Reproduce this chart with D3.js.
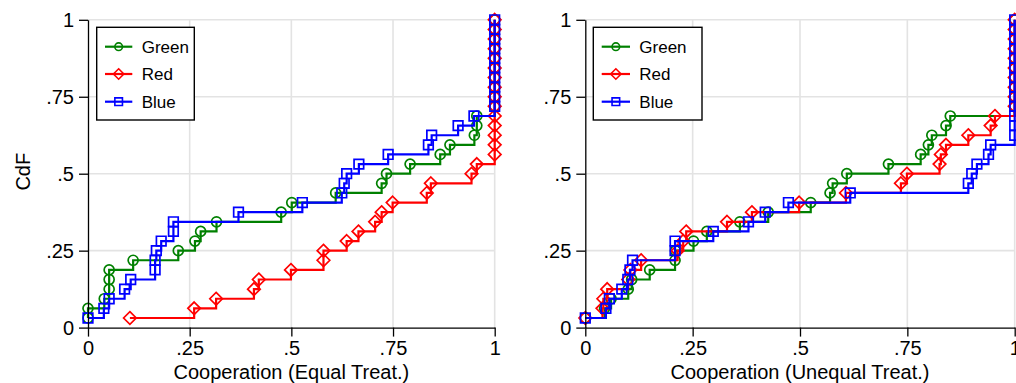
<!DOCTYPE html>
<html>
<head>
<meta charset="utf-8">
<script src="https://cdn.jsdelivr.net/npm/d3@7"></script>
<style>
  html, body { margin: 0; padding: 0; background: #fff; }
  svg { display: block; font-family: "Liberation Sans", Arial, Helvetica, sans-serif; }
</style>
</head>
<body>
<svg id="chart" width="1016" height="383"></svg>
<script>
// ---------- data (cooperation values of each subject, sorted; CdF = rank / n) ----------
const seriesNames = ["Green", "Red", "Blue"];
const seriesColors = ["#008000", "#ff0000", "#0000ff"];
const seriesSymbols = ["circle", "diamond", "square"];

const equalGreen = [0, 0, 0.04, 0.052, 0.052, 0.052, 0.111, 0.222, 0.263, 0.277, 0.316, 0.475,
  0.501, 0.609, 0.722, 0.734, 0.792, 0.866, 0.89, 0.95, 0.956, 0.956, 1, 1, 1, 1, 1, 1, 1, 1, 1, 1];
const equalRed = [0.103, 0.261, 0.315, 0.408, 0.42, 0.499, 0.579, 0.579, 0.636, 0.665, 0.706,
  0.722, 0.749, 0.833, 0.843, 0.943, 0.956, 1, 1, 1, 1, 1, 1, 1, 1, 1, 1, 1, 1, 1, 1, 1];
const equalBlue = [0, 0.039, 0.052, 0.09, 0.105, 0.165, 0.165, 0.168, 0.18, 0.21, 0.21, 0.37,
  0.527, 0.624, 0.63, 0.636, 0.666, 0.738, 0.837, 0.845, 0.91, 0.949, 1, 1, 1, 1, 1, 1, 1, 1, 1, 1];

const unequalGreen = [0, 0.045, 0.06, 0.1, 0.108, 0.15, 0.209, 0.21, 0.252, 0.283, 0.36, 0.426,
  0.525, 0.57, 0.576, 0.609, 0.706, 0.781, 0.799, 0.807, 0.84, 0.85, 1, 1, 1, 1, 1, 1, 1, 1, 1, 1];
const unequalRed = [0, 0.04, 0.042, 0.051, 0.1, 0.105, 0.13, 0.215, 0.228, 0.235, 0.33, 0.388,
  0.498, 0.607, 0.735, 0.749, 0.825, 0.828, 0.84, 0.892, 0.944, 0.954, 1, 1, 1, 1, 1, 1, 1, 1, 1, 1];
const unequalBlue = [0, 0.048, 0.056, 0.085, 0.099, 0.104, 0.11, 0.209, 0.209, 0.298, 0.38, 0.419,
  0.473, 0.617, 0.892, 0.9, 0.912, 0.939, 0.944, 1, 1, 1, 1, 1, 1, 1, 1, 1, 1, 1, 1, 1];

const tickValues = [0, 0.25, 0.5, 0.75, 1];
const xTickLabels = ["0", ".25", ".5", ".75", "1"];
const yTickLabels = ["0", ".25", ".5", ".75", "1"];
const yTitle = "CdF";
const panelTitles = ["Cooperation (Equal Treat.)", "Cooperation (Unequal Treat.)"];

// ---------- layout ----------
const panels = [
  { series: [equalGreen, equalRed, equalBlue], xRange: [88, 494.7], title: panelTitles[0],
    legend: { x: 96.7, y: 27.3, w: 97.6, h: 92.7, lx0: 105, lx1: 132.3, tx: 141.7 }, yTitle: true },
  { series: [unequalGreen, unequalRed, unequalBlue], xRange: [585.3, 1014.7], title: panelTitles[1],
    legend: { x: 593.3, y: 27.3, w: 108.7, h: 92.7, lx0: 601.7, lx1: 630, tx: 639.3 }, yTitle: false }
];
const yRange = [327.6, 19.8];

const svg = d3.select("#chart");

function symbolPath(type, s) {
  if (type === "circle") {
    return `M${-s},0A${s},${s} 0 1,0 ${s},0A${s},${s} 0 1,0 ${-s},0Z`;
  } else if (type === "diamond") {
    return `M0,${-s}L${s},0L0,${s}L${-s},0Z`;
  } else {
    return `M${-s},${-s}L${s},${-s}L${s},${s}L${-s},${s}Z`;
  }
}
const plotSizes = { circle: 5, diamond: 6.3, square: 4.8 };
const legendSizes = { circle: 3.8, diamond: 5.2, square: 3.8 };

panels.forEach(p => {
  const x = d3.scaleLinear().domain([0, 1]).range(p.xRange);
  const y = d3.scaleLinear().domain([0, 1]).range(yRange);
  const g = svg.append("g");

  // grid
  g.append("g").selectAll("line.vg").data(tickValues.slice(1)).join("line")
    .attr("x1", d => x(d)).attr("x2", d => x(d))
    .attr("y1", y(0)).attr("y2", y(1))
    .attr("stroke", "#e3e3e3").attr("stroke-width", 1.6);
  g.append("g").selectAll("line.hg").data(tickValues.slice(1)).join("line")
    .attr("y1", d => y(d)).attr("y2", d => y(d))
    .attr("x1", x(0)).attr("x2", x(1))
    .attr("stroke", "#e3e3e3").attr("stroke-width", 1.6);

  // series
  p.series.forEach((vals, si) => {
    const n = vals.length;
    const pts = vals.map((v, i) => [v, (i + 1) / n]);
    const color = seriesColors[si];
    const sg = g.append("g");
    sg.append("path")
      .attr("d", d3.line().x(d => x(d[0])).y(d => y(d[1])).curve(d3.curveStepAfter)(pts))
      .attr("fill", "none").attr("stroke", color).attr("stroke-width", 2.2)
      .attr("stroke-linejoin", "miter");
    sg.selectAll("path.m").data(pts).join("path")
      .attr("transform", d => `translate(${x(d[0])},${y(d[1])})`)
      .attr("d", symbolPath(seriesSymbols[si], plotSizes[seriesSymbols[si]]))
      .attr("fill", "none").attr("stroke", color).attr("stroke-width", 1.7);
  });

  // axes
  const xAxis = d3.axisBottom(x).tickValues(tickValues)
    .tickFormat((d, i) => xTickLabels[i]).tickSize(9).tickSizeOuter(0).tickPadding(4);
  const yAxis = d3.axisLeft(y).tickValues(tickValues)
    .tickFormat((d, i) => yTickLabels[i]).tickSize(9).tickSizeOuter(0).tickPadding(5);
  const xa = g.append("g").attr("transform", `translate(0,${y(0)})`).call(xAxis);
  const ya = g.append("g").attr("transform", `translate(${x(0)},0)`).call(yAxis);
  [xa, ya].forEach(a => {
    a.select(".domain").attr("stroke", "#000").attr("stroke-width", 1.3);
    a.selectAll(".tick line").attr("stroke", "#000").attr("stroke-width", 1.3);
    a.selectAll(".tick text").attr("fill", "#000").style("font-size", "20px")
      .style("font-family", "'Liberation Sans', Arial, Helvetica, sans-serif");
  });

  // x title
  g.append("text").attr("x", (p.xRange[0] + p.xRange[1]) / 2).attr("y", 379)
    .attr("text-anchor", "middle").style("font-size", "20px").attr("fill", "#000")
    .text(p.title);

  if (p.yTitle) {
    g.append("text").attr("transform", `translate(29.5,${(yRange[0] + yRange[1]) / 2 - 2}) rotate(-90)`)
      .attr("text-anchor", "middle").style("font-size", "20px").attr("fill", "#000")
      .text(yTitle);
  }

  // legend
  const L = p.legend;
  const lg = g.append("g");
  lg.append("rect").attr("x", L.x).attr("y", L.y).attr("width", L.w).attr("height", L.h)
    .attr("fill", "#fff").attr("stroke", "#000").attr("stroke-width", 1.4);
  const rowY = [46.7, 74, 101.7];
  seriesNames.forEach((name, si) => {
    const color = seriesColors[si];
    lg.append("line").attr("x1", L.lx0).attr("x2", L.lx1).attr("y1", rowY[si]).attr("y2", rowY[si])
      .attr("stroke", color).attr("stroke-width", 2.2);
    lg.append("path").attr("transform", `translate(${(L.lx0 + L.lx1) / 2},${rowY[si]})`)
      .attr("d", symbolPath(seriesSymbols[si], legendSizes[seriesSymbols[si]]))
      .attr("fill", "none").attr("stroke", color).attr("stroke-width", 1.6);
    lg.append("text").attr("x", L.tx).attr("y", rowY[si]).attr("dy", "0.36em")
      .style("font-size", "17px").attr("fill", "#000").text(name);
  });
});
</script>
</body>
</html>
